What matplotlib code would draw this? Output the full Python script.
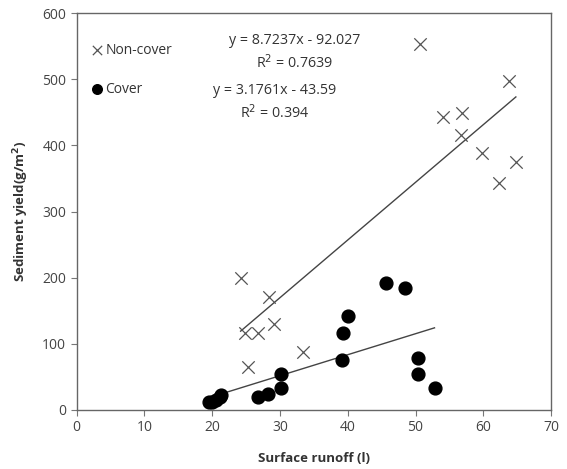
import matplotlib
matplotlib.use("Agg")
import matplotlib.pyplot as plt
import numpy as np

plt.rcParams["font.family"] = ["Open Sans", "DejaVu Sans"]

# surface runoff (l) and sediment yield (g/m2) per plot
noncover_runoff = [24.2, 28.4, 29.1, 24.9, 26.7, 25.3, 33.4, 50.6, 63.8,
                   54.0, 56.9, 56.7, 59.8, 64.8, 62.3]
noncover_sediment = [200, 170, 130, 116, 116, 65, 88, 553, 497,
                     443, 449, 416, 389, 375, 343]

cover_runoff = [19.5, 20.0, 20.6, 21.1, 21.3, 26.8, 28.3, 30.2, 30.2,
                45.7, 48.4, 40.0, 39.3, 39.2, 50.3, 50.3, 52.8]
cover_sediment = [12, 12, 15, 20, 23, 20, 24, 33, 55,
                  192, 185, 142, 116, 76, 79, 55, 33]

# linear trend coefficients (slope, intercept, R2)
noncover_fit = (8.7237, -92.027, 0.7639)
cover_fit = (3.1761, -43.59, 0.394)

fig = plt.figure(figsize=(5.67, 4.69), dpi=100)
ax = fig.add_axes([0.135, 0.126, 0.837, 0.846])

ax.scatter(noncover_runoff, noncover_sediment, marker="x", s=80,
           color="#555555", linewidths=0.9, label="Non-cover", zorder=3)
ax.scatter(cover_runoff, cover_sediment, marker="o", s=85,
           color="black", label="Cover", zorder=3)

for xs, fit in ((noncover_runoff, noncover_fit), (cover_runoff, cover_fit)):
    xl = np.array([min(xs), max(xs)])
    ax.plot(xl, fit[0] * xl + fit[1], color="#444444", lw=1.0, zorder=2)

ax.text(0.46, 0.9, f"y = {noncover_fit[0]}x - {abs(noncover_fit[1])}\n"
        f"R$^2$ = {noncover_fit[2]}", transform=ax.transAxes,
        ha="center", va="center", fontsize=10.3, color="#333333",
        linespacing=1.35)
ax.text(0.418, 0.775, f"y = {cover_fit[0]}x - {abs(cover_fit[1])}\n"
        f"R$^2$ = {cover_fit[2]}", transform=ax.transAxes,
        ha="center", va="center", fontsize=10.3, color="#333333",
        linespacing=1.35)

leg = ax.legend(loc="upper left", bbox_to_anchor=(0.005, 0.95), frameon=False,
                handletextpad=0.0, handlelength=1.2, labelspacing=1.75,
                fontsize=10, borderaxespad=0.3, markerscale=0.75)
for t in leg.get_texts():
    t.set_color("#333333")

ax.set_xlim(0, 70)
ax.set_ylim(0, 600)
ax.set_xticks(range(0, 71, 10))
ax.set_yticks(range(0, 601, 100))
ax.tick_params(direction="out", length=4, width=0.8, colors="#777777",
               labelcolor="#444444", labelsize=10)
for sp in ax.spines.values():
    sp.set_color("#666666")
    sp.set_linewidth(1.0)

ax.set_xlabel("Surface runoff (l)", fontsize=9.5, fontweight="bold",
              color="#333333", labelpad=12)
ax.set_ylabel("Sediment yield(g/m$^\\mathbf{2}$)", fontsize=9.5,
              fontweight="bold", color="#333333", labelpad=8)

fig.savefig("out.png", dpi=100)
